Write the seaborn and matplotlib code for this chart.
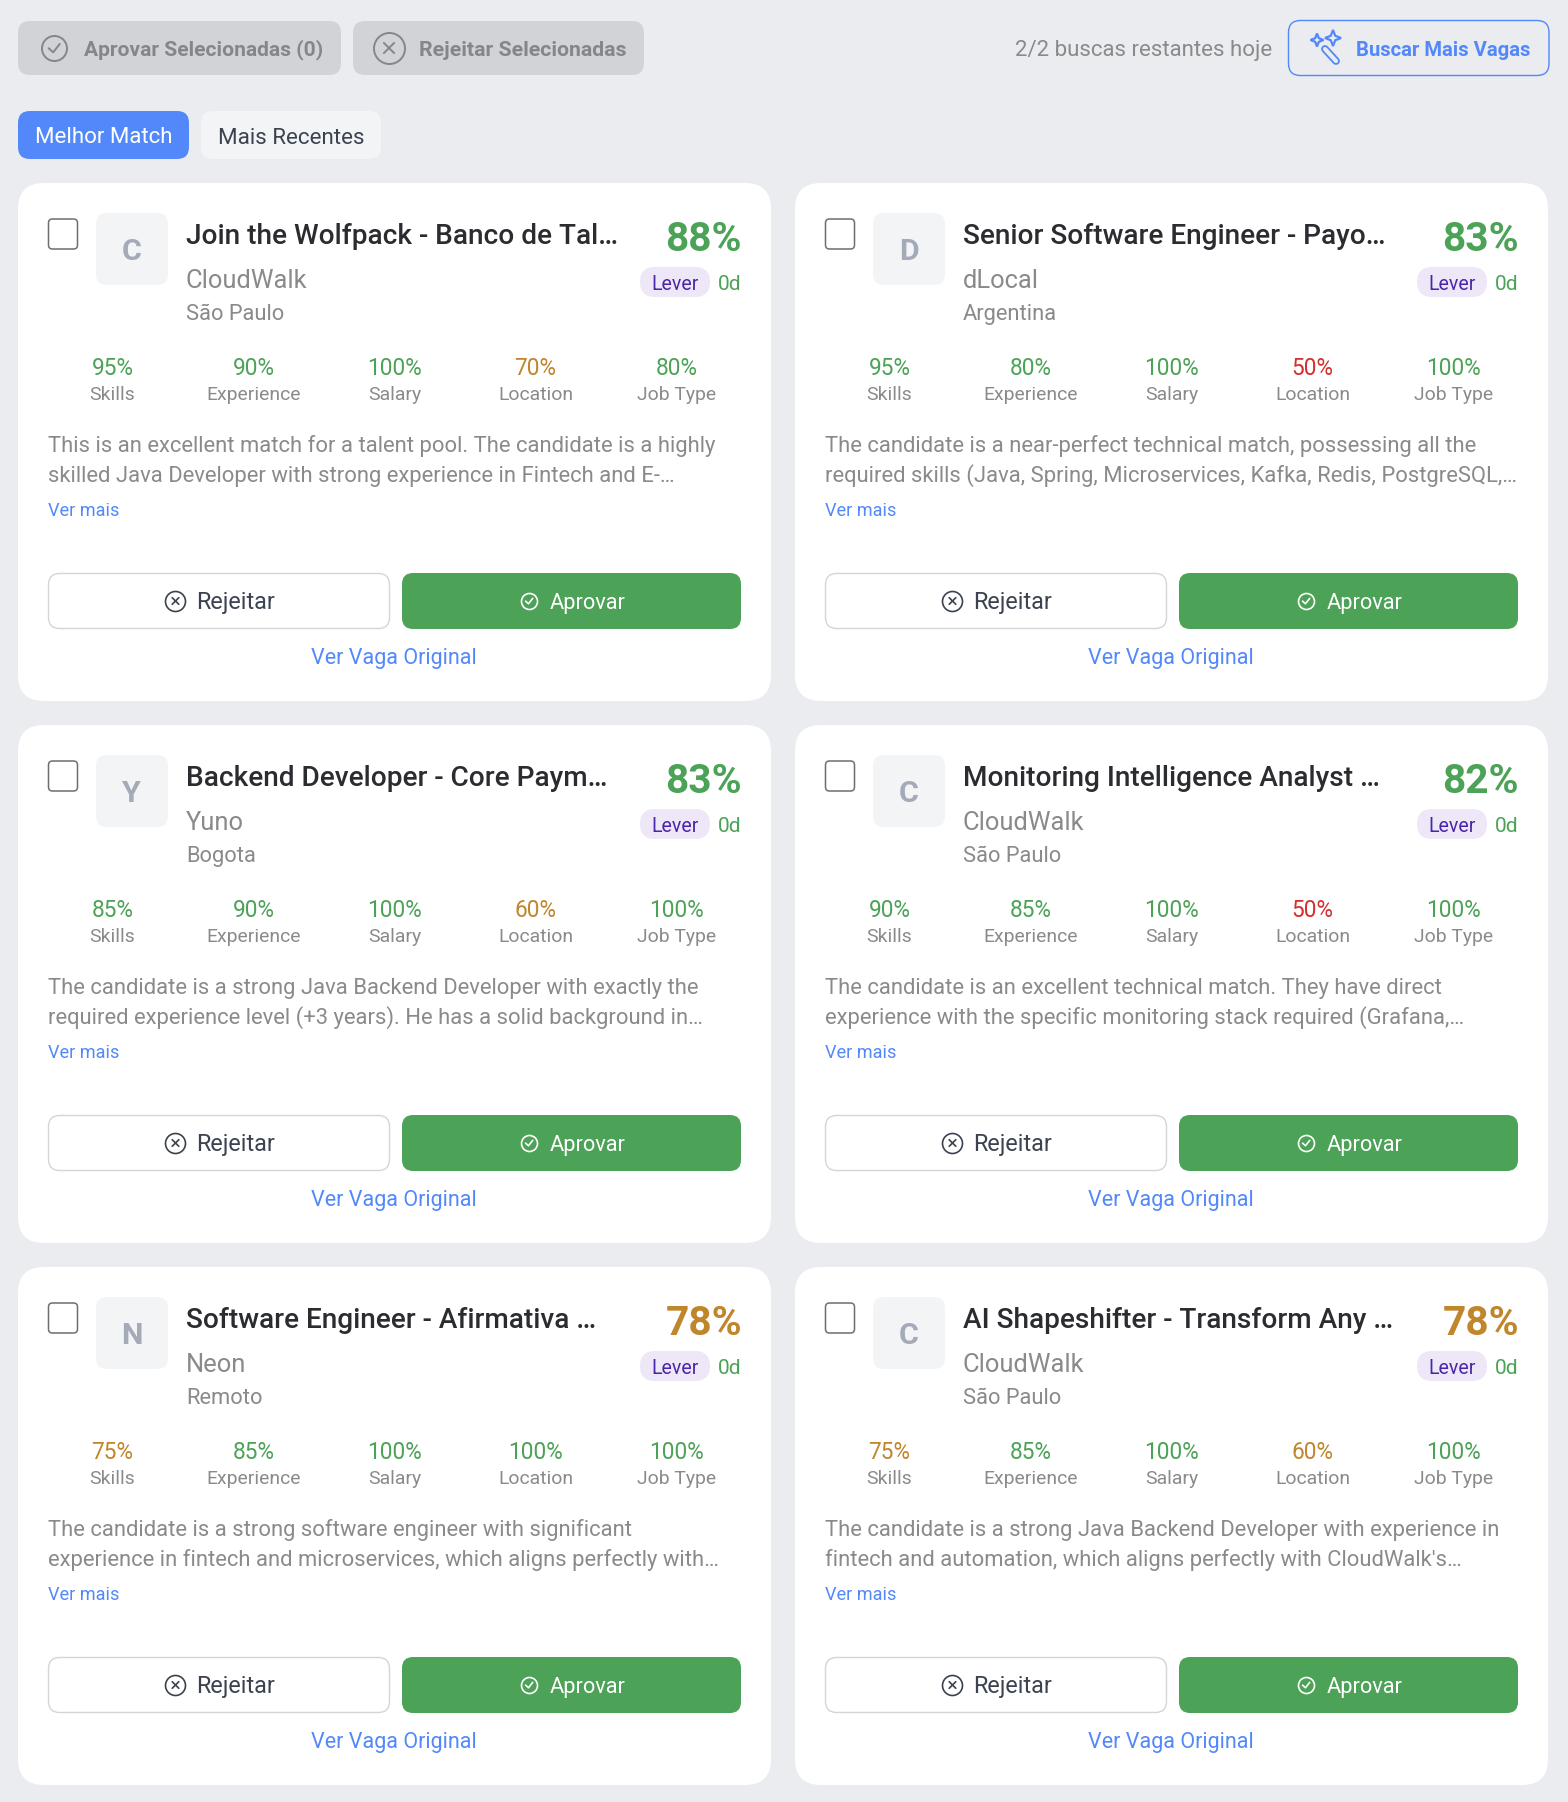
import numpy as np
import pandas as pd
import matplotlib
matplotlib.use("Agg")
import matplotlib.pyplot as plt
from matplotlib.patches import FancyBboxPatch, Polygon
from matplotlib.textpath import TextPath
from matplotlib.font_manager import FontProperties
import seaborn as sns

# ---------- data ----------
titles = ["Join the Wolfpack - Banco de Tal…", "Senior Software Engineer - Payo…",
          "Backend Developer - Core Paym…", "Monitoring Intelligence Analyst …",
          "Software Engineer - Afirmativa …", "AI Shapeshifter - Transform Any …"]
companies = ["CloudWalk", "dLocal", "Yuno", "CloudWalk", "Neon", "CloudWalk"]
locations = ["São Paulo", "Argentina", "Bogota", "São Paulo", "Remoto", "São Paulo"]
overall = [88, 83, 83, 82, 78, 78]
criteria = ["Skills", "Experience", "Salary", "Location", "Job Type"]
skills = [95, 95, 85, 90, 75, 75]
experience = [90, 80, 90, 85, 85, 85]
salary = [100, 100, 100, 100, 100, 100]
location_fit = [70, 50, 60, 50, 100, 60]
job_type = [80, 100, 100, 100, 100, 100]
descriptions = [
    ["This is an excellent match for a talent pool. The candidate is a highly",
     "skilled Java Developer with strong experience in Fintech and E-…"],
    ["The candidate is a near-perfect technical match, possessing all the",
     "required skills (Java, Spring, Microservices, Kafka, Redis, PostgreSQL,…"],
    ["The candidate is a strong Java Backend Developer with exactly the",
     "required experience level (+3 years). He has a solid background in…"],
    ["The candidate is an excellent technical match. They have direct",
     "experience with the specific monitoring stack required (Grafana,…"],
    ["The candidate is a strong software engineer with significant",
     "experience in fintech and microservices, which aligns perfectly with…"],
    ["The candidate is a strong Java Backend Developer with experience in",
     "fintech and automation, which aligns perfectly with CloudWalk's…"],
]
source = "Lever"
age = "0d"

# ---------- style ----------
BG = "#EAECF0"; GREEN = "#4CA256"; AMBER = "#C0862B"; RED = "#D32F2F"
BLUE = "#5288F9"; GREY = "#8A8A8A"; DARK = "#2A2C30"; SLATE = "#3C4350"
FONT = "Roboto"

sns.set_theme(style="white")
plt.rcParams["font.family"] = [FONT, "DejaVu Sans"]

fig = plt.figure(figsize=(15.68, 18.02), dpi=100, facecolor=BG)
ax = fig.add_axes([0, 0, 1, 1])
ax.set_xlim(0, 1568); ax.set_ylim(1802, 0); ax.axis("off")


def fit(sample, px, weight="normal"):
    """Font size (pt) that makes `sample` span `px` pixels."""
    fp = FontProperties(family=FONT, weight=weight)
    w = TextPath((0, 0), sample, size=100, prop=fp).get_extents().width
    return 100 * (px * 0.72) / w


SZ = dict(
    title=fit(titles[0], 429, "medium"), pct=fit("88%", 73, "bold"),
    company=fit("CloudWalk", 120), loc=fit("São Paulo", 96.5),
    sub=fit("100%", 52), label=fit("Experience", 92),
    desc=fit(descriptions[0][0], 666), more=fit("Ver mais", 70),
    rej=fit("Rejeitar", 76.5), apr=fit("Aprovar", 75.5),
    orig=fit("Ver Vaga Original", 164), lever=fit(source, 45.5),
    age=fit(age, 21), tapr=fit("Aprovar Selecionadas (0)", 237.5, "bold"),
    trej=fit("Rejeitar Selecionadas", 206, "bold"),
    quota=fit("2/2 buscas restantes hoje", 255),
    find=fit("Buscar Mais Vagas", 173, "bold"),
    best=fit("Melhor Match", 134.5), recent=fit("Mais Recentes", 143.5),
)


def box(x0, y0, x1, y1, r, fc, ec="none", lw=0, z=1):
    ax.add_patch(FancyBboxPatch((x0, y0), x1 - x0, y1 - y0,
                                boxstyle=f"round,pad=0,rounding_size={r}",
                                fc=fc, ec=ec, lw=lw, zorder=z))


def txt(x, y, s, size, color, ha="left", weight="normal", z=5):
    ax.text(x, y, s, fontsize=size, color=color, ha=ha, va="baseline",
            fontweight=weight, zorder=z)


def score_color(v):
    return GREEN if v >= 80 else (AMBER if v >= 60 else RED)


rings = []  # circular icons, drawn through seaborn below


def ring(cx, cy, r, color, fill, kind, lw=1.5):
    rings.append(dict(x=cx, y=cy, d=2 * r, color=color, fill=fill, lw=lw))
    k = r * 0.33
    if kind == "x":
        ax.plot([cx - k, cx + k], [cy - k, cy + k], color=color, lw=lw, zorder=4)
        ax.plot([cx - k, cx + k], [cy + k, cy - k], color=color, lw=lw, zorder=4)
    else:
        ax.plot([cx - 1.3 * k, cx - 0.2 * k, cx + 1.4 * k],
                [cy + 0.05 * k, cy + 1.05 * k, cy - 1.0 * k],
                color=color, lw=lw, zorder=4, solid_capstyle="round")


def sparkle(cx, cy, r):
    c = r * 0.28
    pts = [(cx, cy - r), (cx + c, cy - c), (cx + r, cy), (cx + c, cy + c),
           (cx, cy + r), (cx - c, cy + c), (cx - r, cy), (cx - c, cy - c)]
    ax.add_patch(Polygon(pts, closed=True, fc=BG, ec=BLUE, lw=1.6, zorder=4))


# ---------- top bar ----------
box(18, 21, 341, 75, 12, "#D2D3D7")
ring(54, 48, 12.5, "#85868A", "#D2D3D7", "check", 1.4)
txt(84, 55, "Aprovar Selecionadas (0)", SZ["tapr"], "#85868A", weight="bold")
box(353, 21, 644, 75, 12, "#D2D3D7")
ring(389, 48, 15.5, "#85868A", "#D2D3D7", "x", 1.4)
txt(419, 55.5, "Rejeitar Selecionadas", SZ["trej"], "#85868A", weight="bold")
txt(1015, 56, "2/2 buscas restantes hoje", SZ["quota"], GREY)
box(1288.5, 20.5, 1549, 75.5, 12, BG, BLUE, 1.0)
txt(1356.5, 55.5, "Buscar Mais Vagas", SZ["find"], BLUE, weight="bold")
# magic-wand icon
ax.plot([1325, 1336], [49, 61], color=BLUE, lw=5.6, solid_capstyle="round", zorder=3)
ax.plot([1325, 1336], [49, 61], color=BG, lw=3.0, solid_capstyle="round", zorder=4)
sparkle(1317, 40, 6.5)
sparkle(1333, 38, 8)

box(18, 111, 189, 159, 12, BLUE)
txt(103.5, 143, "Melhor Match", SZ["best"], "white", ha="center")
box(201, 111, 381, 159, 12, "#F3F4F6")
txt(291, 143.5, "Mais Recentes", SZ["recent"], SLATE, ha="center")

# ---------- job cards ----------
CARD_W, CARD_H, STEP_X, STEP_Y = 753, 518, 777, 542
sub_scores = [skills, experience, salary, location_fit, job_type]

for i, title in enumerate(titles):
    X = 18 + STEP_X * (i % 2)
    Y = 183 + STEP_Y * (i // 2)
    box(X, Y, X + CARD_W, Y + CARD_H, 26, "white")
    box(X + 30.5, Y + 36, X + 59.5, Y + 66, 4, "white", "#6E6E72", 1.1, z=2)
    box(X + 78, Y + 30, X + 150, Y + 102, 11, "#F3F4F6", z=2)
    txt(X + 113.5, Y + 77, companies[i][0].upper(), SZ["lever"] * 1.55, "#A5AAB8", "center", "bold")
    txt(X + 168, Y + 61, title, SZ["title"], DARK, weight="medium")
    txt(X + 724, Y + 68, f"{overall[i]}%", SZ["pct"],
        score_color(overall[i]) if overall[i] >= 80 else AMBER, "right", "bold")
    box(X + 622, Y + 84, X + 692, Y + 114, 15, "#EDE7F8", z=2)
    txt(X + 657, Y + 107, source, SZ["lever"], "#4A25AA", "center")
    txt(X + 724, Y + 107, age, SZ["age"], GREEN, "right")
    txt(X + 168, Y + 105, companies[i], SZ["company"], GREY)
    txt(X + 168, Y + 137, locations[i], SZ["loc"], GREY)
    for j, name in enumerate(criteria):
        cx = X + 94.5 + 141 * j
        v = sub_scores[j][i]
        txt(cx, Y + 192, f"{v}%", SZ["sub"], score_color(v), "center")
        txt(cx, Y + 216.5, name, SZ["label"], GREY, "center")
    txt(X + 30, Y + 269, descriptions[i][0], SZ["desc"], GREY)
    txt(X + 30, Y + 299, descriptions[i][1], SZ["desc"], GREY)
    txt(X + 30, Y + 333, "Ver mais", SZ["more"], BLUE)
    box(X + 30.5, Y + 390.5, X + 371.5, Y + 445.5, 11, "white", "#D3D5DB", 1.0, z=2)
    ring(X + 157.5, Y + 418, 10, SLATE, "white", "x", 1.2)
    txt(X + 178, Y + 426, "Rejeitar", SZ["rej"], SLATE)
    box(X + 384, Y + 390, X + 723, Y + 446, 11, GREEN, z=2)
    ring(X + 511, Y + 418, 8, "white", GREEN, "check", 1.2)
    txt(X + 532, Y + 426, "Aprovar", SZ["apr"], "white")
    txt(X + 376, Y + 481, "Ver Vaga Original", SZ["orig"], BLUE, "center")

# circular icons via seaborn
rings_df = pd.DataFrame(rings)
for (color, fill, d, lw), g in rings_df.groupby(["color", "fill", "d", "lw"]):
    sns.scatterplot(data=g, x="x", y="y", s=(d * 0.72) ** 2, color=fill, edgecolor=color,
                    linewidth=lw, marker="o", ax=ax, legend=False, zorder=3)
ax.set_xlim(0, 1568); ax.set_ylim(1802, 0); ax.axis("off")

fig.savefig("out.png", dpi=100, facecolor=BG)
